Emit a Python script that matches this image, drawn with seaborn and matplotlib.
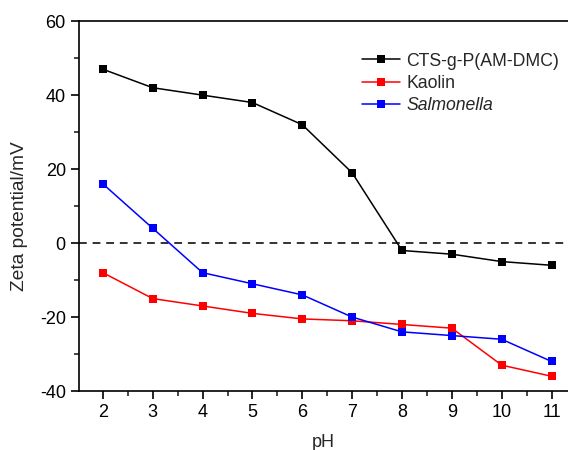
import matplotlib
matplotlib.use("Agg")
import matplotlib.pyplot as plt
import seaborn as sns
import pandas as pd
from matplotlib.ticker import MultipleLocator

ph = [2, 3, 4, 5, 6, 7, 8, 9, 10, 11]
cts = [47, 42, 40, 38, 32, 19, -2, -3, -5, -6]
kaolin = [-8, -15, -17, -19, -20.5, -21, -22, -23, -33, -36]
salmonella = [16, 4, -8, -11, -14, -20, -24, -25, -26, -32]
names = ["CTS-g-P(AM-DMC)", "Kaolin", "Salmonella"]
colors = ["#000000", "#ff0000", "#0000ff"]

df = pd.concat([
    pd.DataFrame({"pH": ph, "zeta": vals, "series": name})
    for name, vals in zip(names, [cts, kaolin, salmonella])
])

sns.set_style("ticks")
plt.rcParams["font.family"] = ["Liberation Sans", "DejaVu Sans"]
plt.rcParams["axes.unicode_minus"] = False

fig = plt.figure(figsize=(5.68, 4.5), dpi=100)
ax = fig.add_axes([0.139, 0.131, 0.861, 0.822])

ax.axhline(0, color="#333333", lw=1.4, ls=(0, (4, 3)), zorder=1)
sns.lineplot(data=df, x="pH", y="zeta", hue="series", palette=dict(zip(names, colors)),
             style="series", markers={n: "s" for n in names}, dashes=False,
             markersize=6, markeredgewidth=0, linewidth=1.1, ax=ax, zorder=3)

ax.set_xlim(1.52, 11.33)
ax.set_ylim(-40, 60)
ax.xaxis.set_major_locator(MultipleLocator(1))
ax.xaxis.set_minor_locator(MultipleLocator(0.5))
ax.yaxis.set_major_locator(MultipleLocator(20))
ax.yaxis.set_minor_locator(MultipleLocator(10))
ax.tick_params(which="major", direction="out", length=6, width=1.2, labelsize=13, colors="black")
ax.tick_params(which="minor", direction="out", length=3.5, width=1.2)
ax.tick_params(axis="both", which="both", top=False, right=False)
for s in ["left", "bottom", "top"]:
    ax.spines[s].set_linewidth(1.2)
    ax.spines[s].set_color("black")
ax.spines["right"].set_visible(False)

ax.set_xlabel("pH", fontsize=13, labelpad=9)
ax.set_ylabel("Zeta potential/mV", fontsize=13.8)
ax.yaxis.set_label_coords(-0.104, 0.472)

handles, labels = ax.get_legend_handles_labels()
leg = ax.legend(handles, labels, loc="upper left", bbox_to_anchor=(0.578, 0.915),
                frameon=False, fontsize=12.7, handlelength=2.15, handletextpad=0.4,
                labelspacing=0.3, borderaxespad=0, borderpad=0)
for t in leg.get_texts():
    if t.get_text() == "Salmonella":
        t.set_fontstyle("italic")

fig.savefig("out.png", dpi=100, facecolor="white")
